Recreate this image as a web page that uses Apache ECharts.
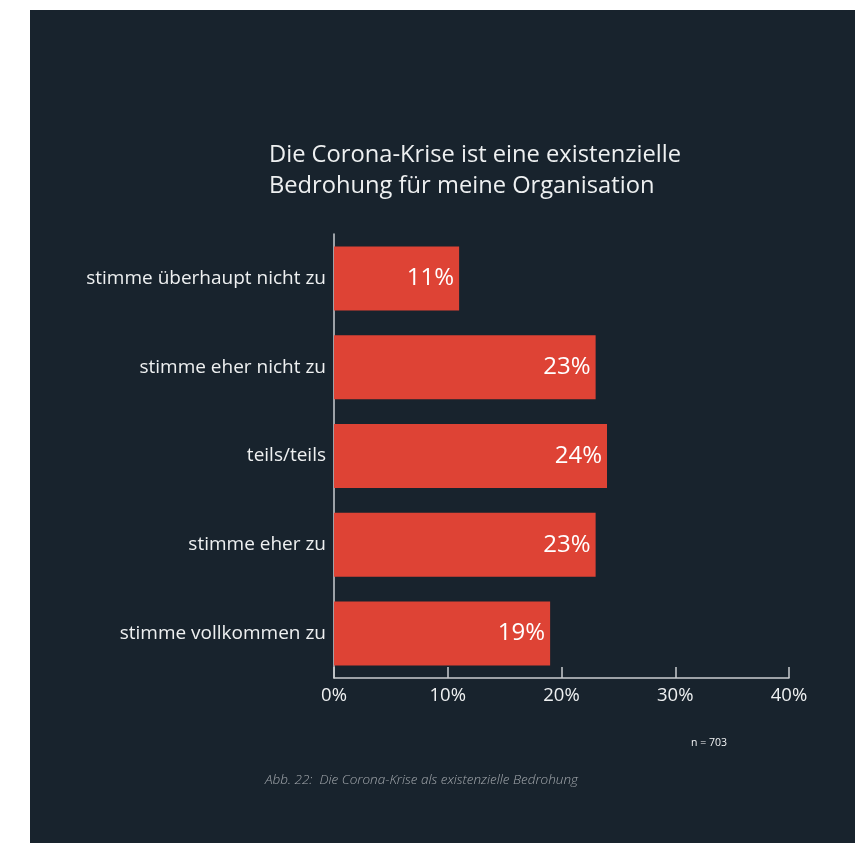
<!DOCTYPE html>
<html>
<head>
<meta charset="utf-8">
<script src="https://cdn.jsdelivr.net/npm/echarts@6/dist/echarts.min.js"></script>
<style>
  html, body { margin: 0; padding: 0; background: #ffffff; width: 855px; height: 843px; overflow: hidden; }
  #chart { position: absolute; left: 30px; top: 10px; width: 825px; height: 833px; background: #18232d; }
</style>
</head>
<body>
<div id="chart"></div>
<script>
// Antworten auf die Aussage und Anteil der Befragten (in %)
const categories = [
  'stimme überhaupt nicht zu',
  'stimme eher nicht zu',
  'teils/teils',
  'stimme eher zu',
  'stimme vollkommen zu'
];
const shares = [11, 23, 24, 23, 19];
const xTicks = { min: 0, max: 40, interval: 10 };

const titleLines = ['Die Corona-Krise ist eine existenzielle', 'Bedrohung für meine Organisation'];
const sampleNote = 'n = 703';
const caption = 'Abb. 22:  Die Corona-Krise als existenzielle Bedrohung';

const FONT = '"Open Sans", "Noto Sans", sans-serif';
const TEXT = '#eef0f1';
const AXIS = '#c9cdd0';

const chart = echarts.init(document.getElementById('chart'), null, { renderer: 'canvas' });

chart.setOption({
  backgroundColor: '#18232d',
  animation: false,
  textStyle: { fontFamily: FONT },
  title: {
    text: titleLines.join('\n'),
    left: 239,
    top: 130,
    padding: 0,
    textStyle: {
      color: TEXT,
      fontFamily: FONT,
      fontSize: 23.7,
      fontWeight: 'normal',
      lineHeight: 31
    }
  },
  grid: { left: 304, top: 224, width: 455, height: 444, containLabel: false },
  xAxis: {
    type: 'value',
    min: xTicks.min,
    max: xTicks.max,
    interval: xTicks.interval,
    axisLine: { show: true, lineStyle: { color: AXIS, width: 1.5 } },
    axisTick: { show: true, inside: true, length: 11, lineStyle: { color: AXIS, width: 1.5 } },
    splitLine: { show: false },
    axisLabel: {
      formatter: '{value}%',
      color: TEXT,
      fontFamily: FONT,
      fontSize: 18.5,
      margin: 8
    }
  },
  yAxis: {
    type: 'category',
    data: categories,
    inverse: true,
    axisLine: { show: true, lineStyle: { color: AXIS, width: 1.5 } },
    axisTick: { show: false },
    axisLabel: {
      color: TEXT,
      fontFamily: FONT,
      fontSize: 19,
      margin: 8
    }
  },
  series: [{
    type: 'bar',
    data: shares,
    barWidth: 64,
    itemStyle: { color: '#de4335' },
    label: {
      show: true,
      position: 'insideRight',
      distance: 5,
      formatter: '{c}%',
      color: '#ffffff',
      fontFamily: FONT,
      fontSize: 24
    }
  }],
  graphic: [
    {
      type: 'text',
      left: 661,
      top: 728,
      style: {
        text: sampleNote,
        fill: '#f2f3f4',
        font: '10.5px ' + FONT
      }
    },
    {
      type: 'text',
      left: 235,
      top: 763,
      style: {
        text: caption,
        fill: '#a3a8ad',
        font: 'italic 300 13.5px ' + FONT
      }
    }
  ]
});
</script>
</body>
</html>
